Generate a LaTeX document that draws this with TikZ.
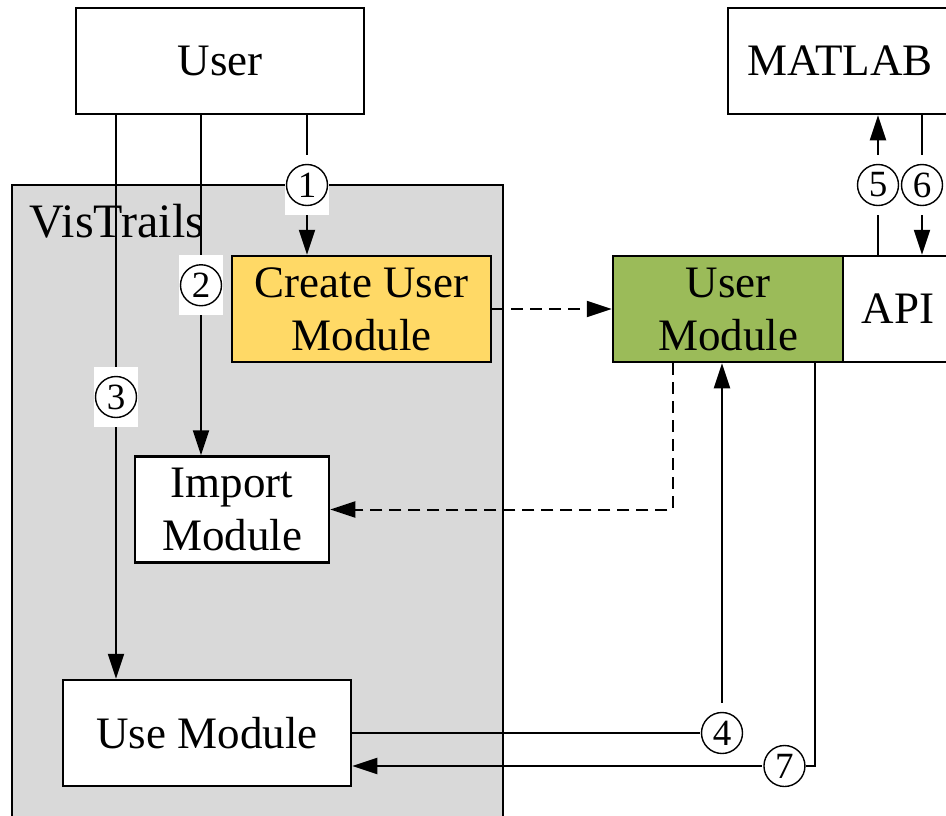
\documentclass[tikz,border=0pt]{standalone}
\usepackage{fontspec}
\setmainfont{Liberation Serif}
\usetikzlibrary{arrows.meta}

\definecolor{visgray}{HTML}{D9D9D9}
\definecolor{creyellow}{HTML}{FFD966}
\definecolor{modgreen}{HTML}{9BBB59}

\begin{document}
\begin{tikzpicture}[x=1pt, y=-1pt, line width=2pt,
  >={Triangle[length=25pt, width=16pt]},
  box/.style={draw, line width=2.5pt, fill=white, align=center, minimum height=106pt, inner sep=0pt, font=\fontsize{45}{53}\selectfont},
  num/.style={fill=white, minimum width=44pt, minimum height=60pt, inner sep=0pt, font=\fontsize{37}{37}\selectfont,
    path picture={\draw[line width=1.4pt] (path picture bounding box.center) circle (20.5pt);}},
  dline/.style={dash pattern=on 12pt off 7pt}]

\useasboundingbox (0,0) rectangle (946,815);
\clip (0,0) rectangle (946,815);

% VisTrails frame
\fill[visgray, draw=black] (12,185) rectangle (503,840);
\node[anchor=base west, inner sep=0pt, font=\fontsize{48}{53}\selectfont] (vis) at (29,237) {VisTrails};

\node[box, minimum width=288pt] (user) at (220,61) {User};
\node[box, minimum width=224pt] (matlab) at (840,61) {MATLAB};
\node[box, fill=creyellow, minimum width=259pt] (create) at (361.5,309) {Create User\\Module};
\node[box, fill=modgreen, minimum width=230pt] (umod) at (728,309) {User\\Module};
\node[box, minimum width=110pt] (api) at (898,309) {API};
\node[box, minimum width=194pt] (import) at (232,509.5) {Import\\Module};
\node[box, minimum width=288pt] (use) at (207,733) {Use Module};

\draw[->]  ([xshift=87]user.south) -- node[num] (n1) {1} ([xshift=87]user.south |- create.north);
\draw[->]  ([xshift=-19]user.south) -- node[num] (n2) {2} ([xshift=-19]user.south |- import.north);
\draw[->]  ([xshift=-104]user.south) -- node[num] (n3) {3} ([xshift=-104]user.south |- use.north);

\draw[->, dline]  (create.east) -- (umod.west |- create.east);
\draw[->, dline]  ([xshift=-55]umod.south) |- (import.east);

\draw[->]  (use.east) -| node[num] (n4) {4} ([xshift=-6]umod.south);
\draw[->]  ([xshift=87]umod.south) |- node[num, pos=0.533] (n7) {7} ([yshift=-33]use.east);

\draw[->]  ([xshift=-20]api.north) -- node[num] (n5) {5} ([xshift=-20]api.north |- matlab.south);
\draw[->]  ([xshift=82]matlab.south) -- node[num] (n6) {6} ([xshift=82]matlab.south |- api.north);

\end{tikzpicture}
\end{document}
